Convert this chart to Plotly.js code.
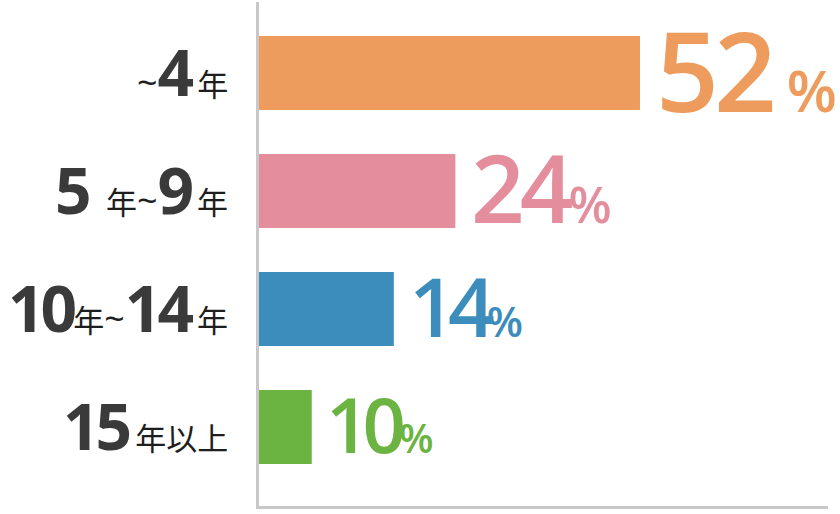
<!DOCTYPE html>
<html>
<head>
<meta charset="utf-8">
<script src="https://cdn.plot.ly/plotly-3.0.1.min.js"></script>
<style>html,body{margin:0;padding:0;background:#fff;}#chart{width:840px;height:514px;}</style>
</head>
<body>
<div id="chart"></div>
<script>
// Categories (top to bottom)
const categories = ["~4年", "5年~9年", "10年~14年", "15年以上"];
// Percentages printed next to the bars
const percents = [52, 24, 14, 10];
// Bar lengths as drawn in the source graphic (same units, not proportional to the labels)
const barLength = [52, 26.8, 18.4, 7.2];
// Bar colours
const colors = ["#ED9C5D", "#E48D9D", "#3C8DBC", "#6BB441"];
// Label pieces: big numerals (b), small 年 text (s), tilde (t), gap (g)
const labelParts = [
  [["t", "~"], ["b", "4"], ["s", " 年"]],
  [["b", "5"], ["g", "\u00a0"], ["s", " 年"], ["t", "~"], ["b", "9"], ["s", " 年"]],
  [["b", "10"], ["s", "年"], ["t", "~"], ["b", "14"], ["s", " 年"]],
  [["b", "15"], ["s", " 年以上"]]
];
const pctSpace = [" ", "", "", ""];
const valueSize = [110, 94, 82, 76];
const valueSpacing = [-5, -5, -8, -7];
const valueShift = [14, 14, 13, 12];
const pctSize = [58, 50, 42, 40];

const smallStyle = "font-size:31px;font-family:'Noto Sans CJK JP';font-weight:400;color:#1e1e1e";
const tildeStyle = "font-size:36px;font-family:'Open Sans';font-weight:400;color:#1e1e1e";
const gapStyle = "font-size:44px;letter-spacing:0px";
const bigStyle = "letter-spacing:-4px";
function labelHtml(parts) {
  const styles = {b: bigStyle, t: tildeStyle, s: smallStyle, g: gapStyle};
  return parts.map(p => "<span style=\"" + styles[p[0]] + "\">" + p[1] + "</span>").join("");
}

const annotations = [];
categories.forEach((c, i) => {
  annotations.push({
    xref: "paper", yref: "y", x: 0, y: c,
    xanchor: "right", yanchor: "middle", xshift: -29, yshift: 2,
    showarrow: false,
    text: labelHtml(labelParts[i]),
    font: {family: "Open Sans", size: 64, weight: 700, color: "#3a3a3a"}
  });
  annotations.push({
    xref: "x", yref: "y", x: barLength[i], y: c,
    xanchor: "left", yanchor: "middle", xshift: valueShift[i], yshift: 4,
    showarrow: false,
    text: "<span style=\"letter-spacing:" + valueSpacing[i] + "px\">" + percents[i] + "</span>" +
          "<span style=\"font-size:" + pctSize[i] + "px\">" + pctSpace[i] + "%</span>",
    font: {family: "Open Sans", size: valueSize[i], weight: 600, color: colors[i]}
  });
});

const trace = {
  type: "bar",
  orientation: "h",
  y: categories,
  x: barLength,
  marker: {color: colors},
  width: 0.627,
  hoverinfo: "skip"
};

const layout = {
  width: 840, height: 514,
  margin: {l: 259, r: 12, t: 2, b: 8},
  paper_bgcolor: "#fff", plot_bgcolor: "#fff",
  showlegend: false,
  xaxis: {range: [0, 77.66], showgrid: false, zeroline: false, showticklabels: false,
          ticks: "", showline: true, linecolor: "#c8c8c8", linewidth: 3},
  yaxis: {type: "category", categoryarray: categories, range: [3.669, -0.602],
          showgrid: false, zeroline: false, showticklabels: false, ticks: "",
          showline: true, linecolor: "#c8c8c8", linewidth: 3},
  annotations: annotations
};

Plotly.newPlot("chart", [trace], layout, {displayModeBar: false, staticPlot: true});
</script>
</body>
</html>
